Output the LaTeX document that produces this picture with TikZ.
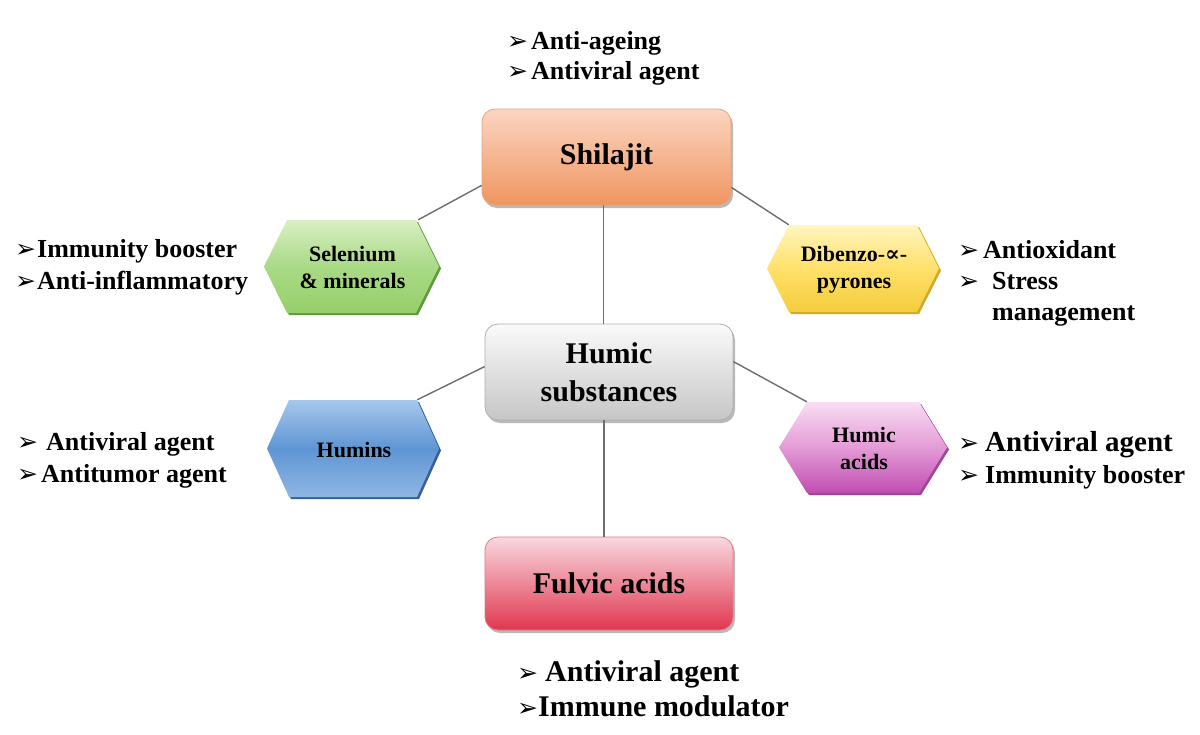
\documentclass[tikz,border=0pt]{standalone}
\usepackage{fontspec}
\setmainfont{Liberation Serif}
\newfontfamily\dejavu{DejaVu Sans}
\newfontfamily\dejaserif{DejaVu Serif}
\usetikzlibrary{shadows,calc}
\newcommand\bul[1]{\makebox[#1][l]{\fontsize{25}{25}\selectfont\dejavu\bfseries ➢}}
\definecolor{shiltop}{HTML}{FBD5C2}
\definecolor{shilbot}{HTML}{F0955F}
\definecolor{shilbd}{HTML}{E9A47F}
\definecolor{humtop}{HTML}{FAFAFA}
\definecolor{humbot}{HTML}{C6C6C6}
\definecolor{humbd}{HTML}{B0B0B0}
\definecolor{fultop}{HTML}{F9D8E0}
\definecolor{fulbot}{HTML}{E0374F}
\definecolor{fulbd}{HTML}{E27A8A}
\definecolor{seltop}{HTML}{D8EFC2}
\definecolor{selmid}{HTML}{A9DA86}
\definecolor{selbot}{HTML}{96CF6A}
\definecolor{seldk}{HTML}{5C9A3A}
\definecolor{dibtop}{HTML}{FFF6C0}
\definecolor{dibmid}{HTML}{FFE06A}
\definecolor{dibbot}{HTML}{F4CD3C}
\definecolor{dibdk}{HTML}{D2A82A}
\definecolor{hnstop}{HTML}{A6C7EC}
\definecolor{hnsmid}{HTML}{5F95D4}
\definecolor{hnsbot}{HTML}{90B6E4}
\definecolor{hnsdk}{HTML}{35609A}
\definecolor{hactop}{HTML}{F9DDF3}
\definecolor{hacmid}{HTML}{E39BD6}
\definecolor{hacbot}{HTML}{C04DB2}
\definecolor{hacdk}{HTML}{A24496}
\definecolor{lnc}{HTML}{6E6E6E}
\newcommand\hexshape[5]{% top, middle, bottom, shadow, pointer
  \fill[#4] ([xshift=2pt,yshift=-1pt]path picture bounding box.west)
    -- ([xshift=#5+2pt,yshift=-2pt]path picture bounding box.north west)
    -- ([xshift=-#5,yshift=-2pt]path picture bounding box.north east)
    -- ([yshift=-1pt]path picture bounding box.east)
    -- ([xshift=-#5]path picture bounding box.south east)
    -- ([xshift=#5+2pt]path picture bounding box.south west) -- cycle;
  \shade[top color=#1, bottom color=#3, middle color=#2] ([yshift=1pt]path picture bounding box.west)
    -- ([xshift=#5]path picture bounding box.north west)
    -- ([xshift=-#5-2pt]path picture bounding box.north east)
    -- ([xshift=-2pt,yshift=1pt]path picture bounding box.east)
    -- ([xshift=-#5-2pt,yshift=2pt]path picture bounding box.south east)
    -- ([xshift=#5,yshift=2pt]path picture bounding box.south west) -- cycle;}
\tikzset{
  box/.style={rectangle, rounded corners=13pt, minimum width=249pt, minimum height=96pt,
    inner sep=0pt, font=\fontsize{30}{38}\selectfont\bfseries, align=center, line width=0.8pt,
    drop shadow={shadow xshift=2pt, shadow yshift=-3pt, fill=black!50, opacity=0.55}},
  hexbox/.style={rectangle, minimum width=175pt, minimum height=93pt, inner sep=0pt,
    font=\fontsize{22}{27}\selectfont\bfseries, align=center},
  lst/.style={anchor=base west, inner sep=0pt, align=left, font=\fontsize{26}{32}\selectfont\bfseries},
  conn/.style={draw=lnc, line width=1.4pt}
}
\begin{document}
\begin{tikzpicture}[x=1pt,y=-1pt]
\useasboundingbox (0,0) rectangle (1200,734);
\fill[white] (0,0) rectangle (1200,734);

\node[box, draw=shilbd, top color=shiltop, bottom color=shilbot] (shil) at (606.5,157) {Shilajit};
\node[box, draw=humbd, top color=humtop, bottom color=humbot, minimum width=248pt] (hum) at (609,372) {Humic\\substances};
\node[box, draw=fulbd, top color=fultop, bottom color=fulbot, minimum width=248pt, minimum height=93pt] (ful) at (609,583.5) {Fulvic acids};

\node[hexbox, minimum width=177pt, minimum height=95pt, path picture={\hexshape{seltop}{selmid}{selbot}{seldk}{23pt}}] (sel) at (352.5,267.5) {Selenium\\\& minerals};
\node[hexbox, minimum width=174pt, minimum height=89pt, path picture={\hexshape{dibtop}{dibmid}{dibbot}{dibdk}{22pt}}] (dib) at (854,269.5) {Dibenzo-{\dejaserif ∝}-\\pyrones};
\node[hexbox, minimum width=174pt, minimum height=99pt, path picture={\hexshape{hnstop}{hnsmid}{hnsbot}{hnsdk}{22pt}}] (hns) at (354,449.5) {Humins};
\node[hexbox, minimum width=170pt, minimum height=93pt, path picture={\hexshape{hactop}{hacmid}{hacbot}{hacdk}{28pt}}] (hac) at (864,448.5) {Humic\\acids};

\coordinate (v1) at ($(shil.south)+(-3,0)$);
\coordinate (v2) at ($(hum.south)+(-5,0)$);
\draw[conn] ($(shil.south west)+(0,-20)$) -- ($(sel.north east)+(-23,0)$);
\draw[conn] ($(shil.south east)+(0,-18)$) -- ($(dib.north west)+(22,0)$);
\draw[conn] (v1) -- (v1 |- hum.north);
\draw[conn] ($(hum.north west)+(0,43)$) -- ($(hns.north east)+(-24,0)$);
\draw[conn] ($(hum.north east)+(0,38)$) -- ($(hac.north west)+(28,0)$);
\draw[conn] (v2) -- (v2 |- ful.north);

\node[lst, font=\fontsize{26}{30}\selectfont\bfseries] (t1) at (507,79) {\bul{24pt}Anti-ageing\\\bul{24pt}Antiviral agent};
\node[lst] (t2) at (15,289) {\bul{22pt}Immunity booster\\\bul{22pt}Anti-inflammatory};
\node[lst, font=\fontsize{26}{31}\selectfont\bfseries] (t3) at (958,320) {\bul{25pt}Antioxidant\\\bul{34pt}Stress\\\hspace*{34pt}management};
\node[lst] (t4) at (17,482) {\bul{29pt}Antiviral agent\\\bul{24pt}Antitumor agent};
\node[lst] (t5) at (958,483) {\bul{27pt}{\fontsize{29}{32}\selectfont Antiviral agent}\\\bul{27pt}Immunity booster};
\node[lst, font=\fontsize{30}{35}\selectfont\bfseries] (t6) at (517,716) {\bul{28pt}Antiviral agent\\\bul{21pt}Immune modulator};
\end{tikzpicture}
\end{document}
